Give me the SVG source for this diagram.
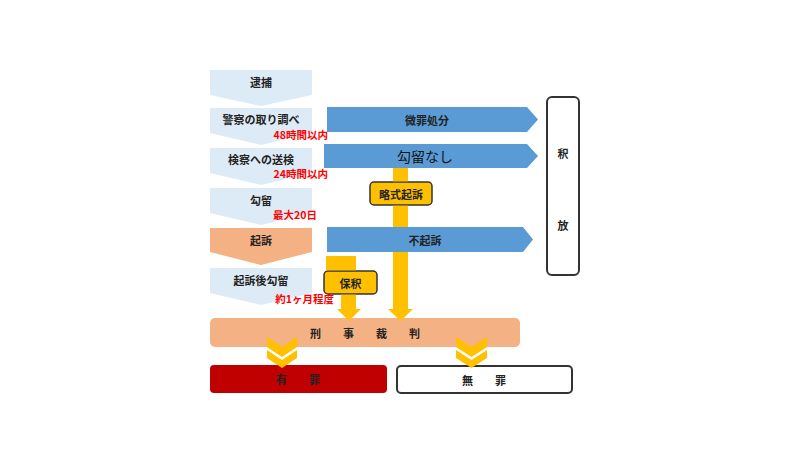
<svg xmlns="http://www.w3.org/2000/svg" width="800" height="450" viewBox="0 0 800 450">
<style>
.t{font-family:"Noto Sans CJK JP","Noto Sans",sans-serif;font-weight:bold;font-size:11px;fill:#222;text-anchor:middle;dominant-baseline:central}
.r{font-family:"Noto Sans CJK JP","Noto Sans",sans-serif;font-weight:bold;font-size:10.5px;fill:#FF0000;text-anchor:end;dominant-baseline:central}
.step{fill:#DDEBF7}
.blue{fill:#5B9BD5}
.yel{fill:#FFC000}
.ybox{fill:#FFC000;stroke:#333;stroke-width:1.5}
</style>
<rect width="800" height="450" fill="#fff"/>
<g id="n-taiho"><path class="step" d="M210,70H312V95L261,106L210,95Z"/><text class="t" x="261" y="82">逮捕</text></g>
<g id="n-keisatsu"><path class="step" d="M210,108H312V133L261,145L210,133Z"/><text class="t" x="261" y="119">警察の取り調べ</text><text class="r" x="328" y="134">48時間以内</text></g>
<g id="n-soken"><path class="step" d="M210,148H312V173L261,185L210,173Z"/><text class="t" x="261" y="159">検察への送検</text><text class="r" x="328" y="173">24時間以内</text></g>
<g id="n-koryu"><path class="step" d="M210,188H312V213L261,225L210,213Z"/><text class="t" x="261" y="200">勾留</text><text class="r" x="317" y="214">最大20日</text></g>
<g id="n-kiso"><path fill="#F4B183" d="M210,228H312V252L261,265L210,252Z"/><text class="t" x="261" y="240">起訴</text></g>
<g id="n-kisogo"><path class="step" d="M210,268H312V293L261,305L210,293Z"/><text class="t" x="261" y="280">起訴後勾留</text><text class="r" x="334" y="298">約1ヶ月程度</text></g>

<g id="n-bizai"><path class="blue" d="M327,107H527L538,119.5L527,132H327Z"/><text class="t" x="427" y="119.5">微罪処分</text></g>
<g id="n-koryunashi"><path class="blue" d="M324,144H527L538,156L527,168H324Z"/><text class="t" x="425" y="156" style="font-weight:normal;font-size:14px;fill:#111">勾留なし</text></g>
<g id="n-fukiso"><path class="blue" d="M327,227H523L533,239.5L523,252H327Z"/><text class="t" x="425" y="239.5">不起訴</text></g>
<g id="n-ryakushiki"><rect class="ybox" x="370" y="182" width="62" height="23" rx="4"/><text class="t" x="401" y="193.5">略式起訴</text></g>
<g id="n-hoshaku"><rect class="ybox" x="324" y="271" width="53" height="23" rx="4"/><text class="t" x="350.5" y="282.5">保釈</text></g>
<g id="n-shakuho"><rect x="547" y="97" width="32" height="178" rx="5" fill="#fff" stroke="#333" stroke-width="2"/><text class="t" x="563" y="153">釈</text><text class="t" x="563" y="225">放</text></g>
<g id="n-keiji"><rect x="210" y="318" width="310" height="29" rx="5" fill="#F4B183"/><text class="t" x="365" y="333" xml:space="preserve">刑　　事　　裁　　判</text></g>
<g id="n-yuzai"><rect x="210" y="365" width="177" height="28" rx="4" fill="#C00000"/><text class="t" x="298" y="379" xml:space="preserve">有　　罪</text></g>
<g id="n-muzai"><rect x="397" y="366" width="175" height="27" rx="4" fill="#fff" stroke="#333" stroke-width="2"/><text class="t" x="484" y="379.5" xml:space="preserve">無　　罪</text></g>

<g id="connectors">
<rect class="yel" x="393" y="168" width="15" height="13.3"/>
<rect class="yel" x="393" y="205.7" width="15" height="21.3"/>
<rect class="yel" x="393" y="252" width="15" height="58"/>
<path class="yel" d="M388,309H413L400.5,321Z"/>
<rect class="yel" x="326" y="256" width="30" height="14.3"/>
<rect class="yel" x="341" y="294.7" width="15" height="15.3"/>
<path class="yel" d="M337,309H361L349,321Z"/>
<path class="yel" d="M267,337L282,347L297,337V347L282,357L267,347Z"/>
<path class="yel" d="M267,350L282,360L297,350V358L282,368L267,358Z"/>
<path class="yel" d="M456,337L471.5,347L487,337V347L471.5,357L456,347Z"/>
<path class="yel" d="M456,350L471.5,360L487,350V358L471.5,368L456,358Z"/>
</g>
</svg>
